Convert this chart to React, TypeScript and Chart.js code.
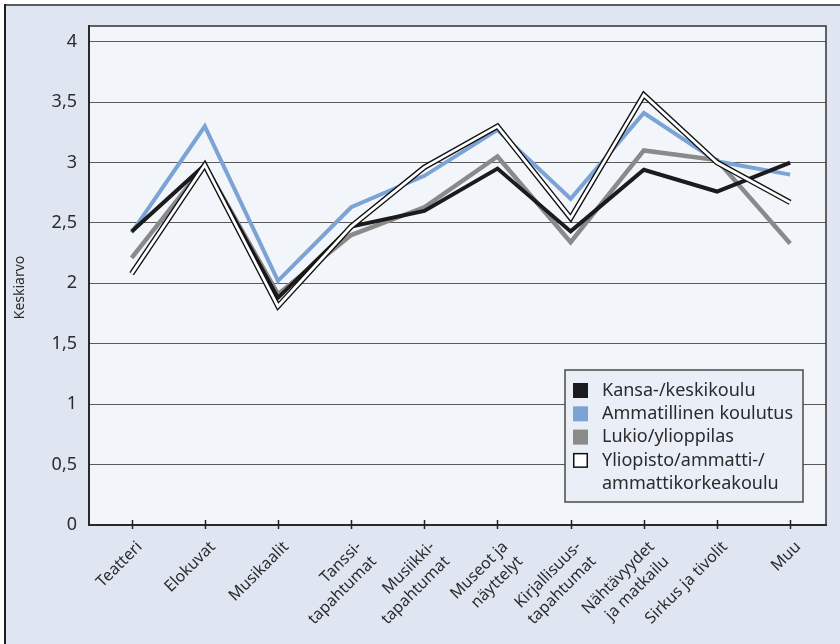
import { useEffect, useRef } from "react";
import { Chart, registerables } from "chart.js";

Chart.register(...registerables);

// Categories along the x axis (multi-line labels as arrays)
const categories: (string | string[])[] = [
  "Teatteri",
  "Elokuvat",
  "Musikaalit",
  ["Tanssi-", "tapahtumat"],
  ["Musiikki-", "tapahtumat"],
  ["Museot ja", "näyttelyt"],
  ["Kirjallisuus-", "tapahtumat"],
  ["Nähtävyydet", "ja matkailu"],
  "Sirkus ja tivolit",
  "Muu",
];

// Mean scores per education level
const kansaKeskikoulu = [2.43, 2.98, 1.88, 2.47, 2.6, 2.95, 2.43, 2.94, 2.76, 3.0];
const ammatillinen = [2.42, 3.3, 2.02, 2.63, 2.89, 3.27, 2.7, 3.41, 3.01, 2.9];
const lukio = [2.21, 2.98, 1.91, 2.4, 2.63, 3.05, 2.34, 3.1, 3.02, 2.33];
const yliopisto = [2.08, 2.98, 1.81, 2.47, 2.96, 3.3, 2.54, 3.56, 3.0, 2.67];

const seriesNames: (string | string[])[] = [
  "Kansa-/keskikoulu",
  "Ammatillinen koulutus",
  "Lukio/ylioppilas",
  ["Yliopisto/ammatti-/", "ammattikorkeakoulu"],
];

// y axis tick values
const yTickValues = [0, 0.5, 1, 1.5, 2, 2.5, 3, 3.5, 4];
const yAxisTitle = "Keskiarvo";

const FONT = "'Noto Sans', 'DejaVu Sans', sans-serif";
const TEXT = "#2b2b2b";

const toPoints = (values: number[]) => values.map((y, x) => ({ x, y }));

// Frame, plot background and plot borders
const framePlugin = {
  id: "frame",
  beforeDraw(chart: any) {
    const { ctx, width, height, chartArea: a } = chart;
    ctx.save();
    ctx.fillStyle = "#ffffff";
    ctx.fillRect(0, 0, width, height);
    ctx.fillStyle = "#dfe6f1";
    ctx.fillRect(4, 4, width - 4, height - 4);
    ctx.lineWidth = 2;
    ctx.strokeStyle = "#5c5c5c";
    ctx.beginPath();
    ctx.moveTo(4, 5);
    ctx.lineTo(width, 5);
    ctx.stroke();
    ctx.strokeStyle = "#1e1e1e";
    ctx.beginPath();
    ctx.moveTo(5, 4);
    ctx.lineTo(5, height);
    ctx.stroke();
    ctx.fillStyle = "#f2f5fa";
    ctx.fillRect(a.left, a.top, a.right - a.left, a.bottom - a.top);
    ctx.restore();
  },
  afterDraw(chart: any) {
    const { ctx, chartArea: a, scales } = chart;
    ctx.save();
    // top and right edges of the plot box
    ctx.strokeStyle = "#333333";
    ctx.lineWidth = 1.5;
    ctx.beginPath();
    ctx.moveTo(a.left, a.top);
    ctx.lineTo(a.right, a.top);
    ctx.lineTo(a.right, a.bottom);
    ctx.stroke();
    // tick marks crossing the x axis
    const xs = scales.x;
    ctx.strokeStyle = "#222222";
    ctx.lineWidth = 1.5;
    categories.forEach((_, i) => {
      const px = Math.round(xs.getPixelForValue(i)) + 0.5;
      ctx.beginPath();
      ctx.moveTo(px, a.bottom - 5);
      ctx.lineTo(px, a.bottom + 4);
      ctx.stroke();
    });
    // y axis title
    ctx.fillStyle = TEXT;
    ctx.font = `14px ${FONT}`;
    ctx.textAlign = "center";
    ctx.textBaseline = "middle";
    ctx.translate(20, (a.top + a.bottom) / 2 + 12);
    ctx.rotate(-Math.PI / 2);
    ctx.fillText(yAxisTitle, 0, 0);
    ctx.restore();
  },
};

// Boxed legend inside the plot area
const boxLegendPlugin = {
  id: "boxLegend",
  afterDraw(chart: any) {
    const { ctx, chartArea: a } = chart;
    const bx = a.right - 261;
    const by = 370;
    const bw = 238;
    const bh = 132;
    ctx.save();
    ctx.fillStyle = "#e9eef7";
    ctx.fillRect(bx, by, bw, bh);
    ctx.strokeStyle = "#4a4a4a";
    ctx.lineWidth = 1.5;
    ctx.strokeRect(bx, by, bw, bh);
    const rowH = 23.3;
    ctx.font = `18px ${FONT}`;
    ctx.textAlign = "left";
    ctx.textBaseline = "middle";
    const items = chart.data.datasets.filter((d: any) => d.legendFill);
    items.forEach((d: any, i: number) => {
      const sy = by + 13 + i * rowH;
      ctx.fillStyle = d.legendFill;
      ctx.fillRect(bx + 8, sy, 15, 15);
      if (d.legendStroke) {
        ctx.strokeStyle = d.legendStroke;
        ctx.lineWidth = 1.5;
        ctx.strokeRect(bx + 8.75, sy + 0.75, 13.5, 13.5);
      }
      ctx.fillStyle = TEXT;
      const lines = Array.isArray(d.label) ? d.label : [d.label];
      lines.forEach((t: string, j: number) => {
        ctx.fillText(t, bx + 37, sy + 7.5 + j * rowH);
      });
    });
    ctx.restore();
  },
};

export default function App() {
  const canvasRef = useRef<HTMLCanvasElement | null>(null);

  useEffect(() => {
    if (!canvasRef.current) return;
    const chart = new Chart(canvasRef.current, {
      type: "line",
      data: {
        datasets: [
          {
            label: seriesNames[0] as any,
            data: toPoints(kansaKeskikoulu),
            borderColor: "#1b1b1d",
            borderWidth: 4,
            order: 2,
            legendFill: "#1b1b1d",
          } as any,
          {
            label: seriesNames[1] as any,
            data: toPoints(ammatillinen),
            borderColor: "#7ba3d5",
            borderWidth: 4,
            order: 3,
            legendFill: "#7ba3d5",
          } as any,
          {
            label: seriesNames[2] as any,
            data: toPoints(lukio),
            borderColor: "#8a8a8a",
            borderWidth: 4.5,
            order: 4,
            legendFill: "#8a8a8a",
          } as any,
          {
            label: seriesNames[3] as any,
            data: toPoints(yliopisto),
            borderColor: "#111111",
            borderWidth: 5.5,
            order: 1,
            legendFill: "#ffffff",
            legendStroke: "#111111",
          } as any,
          {
            label: "",
            data: toPoints(yliopisto),
            borderColor: "#ffffff",
            borderWidth: 2.8,
            order: 0,
          } as any,
        ],
      },
      options: {
        responsive: false,
        animation: false,
        devicePixelRatio: 1,
        layout: { padding: { top: 26, right: 14, left: 0, bottom: 0 } },
        elements: {
          point: { radius: 0, hoverRadius: 0 },
          line: { tension: 0, borderJoinStyle: "miter", borderCapStyle: "butt", fill: false },
        },
        plugins: {
          legend: { display: false },
          tooltip: { enabled: false },
        },
        scales: {
          x: {
            type: "linear",
            min: -0.583,
            max: 9.49,
            afterBuildTicks: (scale: any) => {
              scale.ticks = categories.map((_, i) => ({ value: i }));
            },
            afterFit: (scale: any) => {
              scale.height = 119;
            },
            grid: { display: false },
            border: { display: true, color: "#2a2a2a", width: 2 },
            ticks: {
              autoSkip: false,
              maxRotation: 45,
              minRotation: 45,
              padding: 4,
              labelOffset: 8,
              color: TEXT,
              font: { family: FONT, size: 16, lineHeight: 1.3 },
              callback: (v: any) => categories[Math.round(Number(v))] as any,
            },
          },
          y: {
            min: 0,
            max: 4.13,
            afterBuildTicks: (scale: any) => {
              scale.ticks = yTickValues.map((value) => ({ value }));
            },
            afterFit: (scale: any) => {
              scale.width = 89;
            },
            grid: { color: "#5a5a5a", lineWidth: 1, drawTicks: false },
            border: { display: true, color: "#2a2a2a", width: 2 },
            ticks: {
              padding: 12,
              color: TEXT,
              font: { family: FONT, size: 18 },
              callback: (v: any) => String(v).replace(".", ","),
            },
          },
        },
      } as any,
      plugins: [framePlugin, boxLegendPlugin],
    });
    return () => chart.destroy();
  }, []);

  return (
    <div style={{ position: "absolute", left: 0, top: 0, width: 840, height: 644 }}>
      <canvas ref={canvasRef} width={840} height={644} style={{ display: "block" }} />
    </div>
  );
}
